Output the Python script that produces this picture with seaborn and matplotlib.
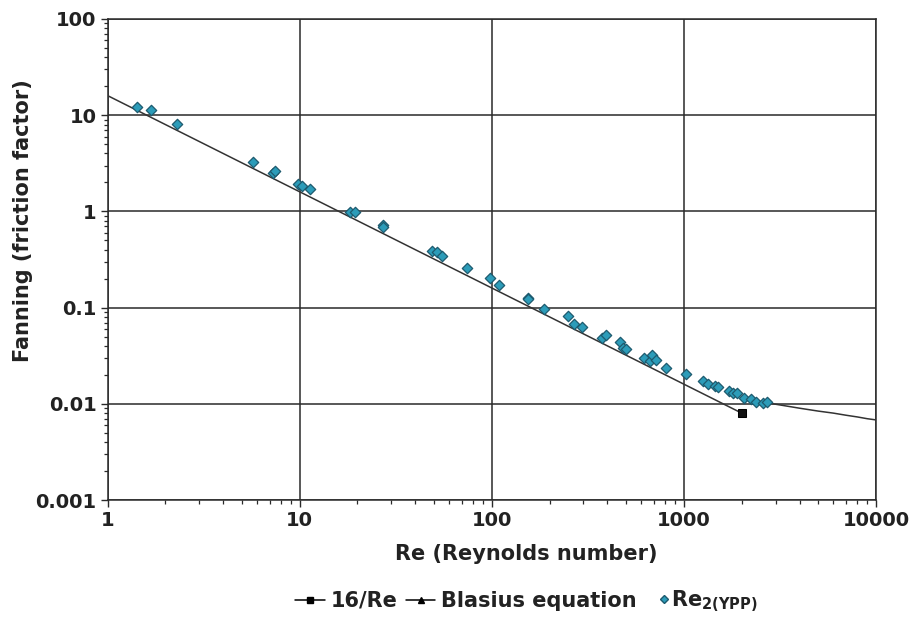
import numpy as np
import pandas as pd
import matplotlib
matplotlib.use("Agg")
import matplotlib.pyplot as plt
from matplotlib.lines import Line2D
import matplotlib.ticker as mticker
import seaborn as sns

# ---- data ----
lam_re = [1, 2000]
lam_f = [16, 0.008]

blasius_re = [2000, 3000, 4000, 5000, 6000, 7000, 8000, 9000, 10000]
blasius_f = [0.0112, 0.0099, 0.0090, 0.0084, 0.0080, 0.0076, 0.0073, 0.0070, 0.0068]

ypp_re = [1.43, 1.68, 2.29, 5.70, 7.30, 7.45, 9.77, 10.3, 11.3, 18.3, 19.4,
          27.1, 27.0, 48.7, 51.7, 55.3, 74.1, 98.0, 109.5, 154.5, 154.8, 187.8,
          250.5, 268.2, 295.2, 376.5, 392.1, 465.5, 484.3, 498.4, 622.6, 667.0,
          683.2, 716.7, 808.0, 1027, 1251, 1341, 1454, 1507, 1726, 1804, 1899,
          2065, 2225, 2362, 2594, 2721]
ypp_f = [12.26, 11.32, 8.16, 3.29, 2.525, 2.61, 1.913, 1.837, 1.697, 0.993, 0.986,
         0.722, 0.693, 0.390, 0.3756, 0.3463, 0.2562, 0.2016, 0.1717, 0.1268, 0.122,
         0.0967, 0.0818, 0.0671, 0.0633, 0.0480, 0.0515, 0.0436, 0.0383, 0.0369,
         0.0299, 0.0281, 0.0322, 0.0285, 0.0238, 0.0202, 0.01738, 0.01606, 0.01531,
         0.01495, 0.01359, 0.01304, 0.01304, 0.01157, 0.01122, 0.01044, 0.01012, 0.01051]

x_ticks = [1, 10, 100, 1000, 10000]
x_tick_labels = ["1", "10", "100", "1000", "10000"]
y_ticks = [0.001, 0.01, 0.1, 1, 10, 100]
y_tick_labels = ["0.001", "0.01", "0.1", "1", "10", "100"]

# ---- style ----
sns.set_theme(style="white")
plt.rcParams["font.family"] = ["DejaVu Sans"]
plt.rcParams["mathtext.fontset"] = "dejavusans"

text_color = "#222222"
point_fill = "#2c9cb9"
point_edge = "#1d5a6e"

fig = plt.figure(figsize=(9.19, 6.17), dpi=100)
ax = fig.add_axes([107.5 / 919, 1 - 500 / 617, (876 - 107.5) / 919, (500 - 19) / 617])

lam_df = pd.DataFrame({"Re": lam_re, "f": lam_f})
bl_df = pd.DataFrame({"Re": blasius_re, "f": blasius_f})
ypp_df = pd.DataFrame({"Re": ypp_re, "f": ypp_f})

sns.lineplot(data=lam_df, x="Re", y="f", ax=ax, color="#333333", lw=1.1,
             marker="s", markersize=6, markevery=[1], markeredgecolor="black",
             markerfacecolor="#111111", sort=False, zorder=3)
sns.lineplot(data=bl_df, x="Re", y="f", ax=ax, color="#333333", lw=1.1,
             sort=False, zorder=3)
sns.scatterplot(data=ypp_df, x="Re", y="f", ax=ax, marker="D", s=28,
                color=point_fill, edgecolor=point_edge, linewidth=0.9, zorder=4)

ax.set_xscale("log")
ax.set_yscale("log")
ax.set_xlim(1, 10000)
ax.set_ylim(0.001, 100)

ax.set_xticks(x_ticks)
ax.set_xticklabels(x_tick_labels)
ax.set_yticks(y_ticks)
ax.set_yticklabels(y_tick_labels)
ax.xaxis.set_minor_locator(mticker.LogLocator(base=10, subs=np.arange(2, 10), numticks=20))
ax.yaxis.set_minor_locator(mticker.LogLocator(base=10, subs=np.arange(2, 10), numticks=20))
ax.xaxis.set_minor_formatter(mticker.NullFormatter())
ax.yaxis.set_minor_formatter(mticker.NullFormatter())

ax.grid(True, which="major", color="#2a2a2a", lw=1.1)
ax.grid(False, which="minor")
ax.set_axisbelow(True)
for s in ax.spines.values():
    s.set_color("#2a2a2a")
    s.set_linewidth(1.1)

ax.tick_params(axis="both", which="major", direction="out", length=5, width=1.0,
               colors="#2a2a2a", labelsize=14, labelcolor=text_color, pad=3)
ax.tick_params(axis="both", which="minor", direction="out", length=3, width=0.9,
               colors="#2a2a2a")
ax.tick_params(axis="x", which="both", bottom=True, top=False)
ax.tick_params(axis="y", which="both", left=True, right=False)
for lab in ax.get_xticklabels() + ax.get_yticklabels():
    lab.set_fontweight("bold")

ax.set_xlabel("Re (Reynolds number)", fontsize=15, fontweight="bold", color=text_color)
ax.set_ylabel("Fanning (friction factor)", fontsize=15, fontweight="bold", color=text_color)
ax.xaxis.set_label_coords((526 - 107.5) / 768.5, -(544 - 500) / 481)
ax.yaxis.set_label_coords(-(107.5 - 33) / 768.5, (500 - 221) / 481)

# ---- legend (two parts so the diamond sits close to its label) ----
line_handles = [
    Line2D([0], [0], color="black", lw=1.1, marker="s", markersize=5, markerfacecolor="black"),
    Line2D([0], [0], color="black", lw=1.1, marker="^", markersize=4, markerfacecolor="black"),
]
line_labels = ["16/Re", "Blasius equation"]
leg1 = fig.legend(line_handles, line_labels, loc="center left",
                  bbox_to_anchor=(285 / 919, 1 - 601 / 617), ncol=2, frameon=False,
                  borderpad=0, handlelength=1.4, handletextpad=0.3, columnspacing=0.4,
                  prop={"size": 15, "weight": "bold"})
pt_handle = [Line2D([0], [0], lw=0, marker="D", markersize=4.5,
                    markerfacecolor=point_fill, markeredgecolor=point_edge)]
leg2 = fig.legend(pt_handle, [r"Re$_{\mathbf{2(YPP)}}$"], loc="center left",
                  bbox_to_anchor=(648 / 919, 1 - 601 / 617), frameon=False,
                  borderpad=0, handlelength=0.5, handletextpad=0.1,
                  prop={"size": 15, "weight": "bold"})
for lg in (leg1, leg2):
    for t in lg.get_texts():
        t.set_color(text_color)

fig.savefig("out.png", dpi=100)
